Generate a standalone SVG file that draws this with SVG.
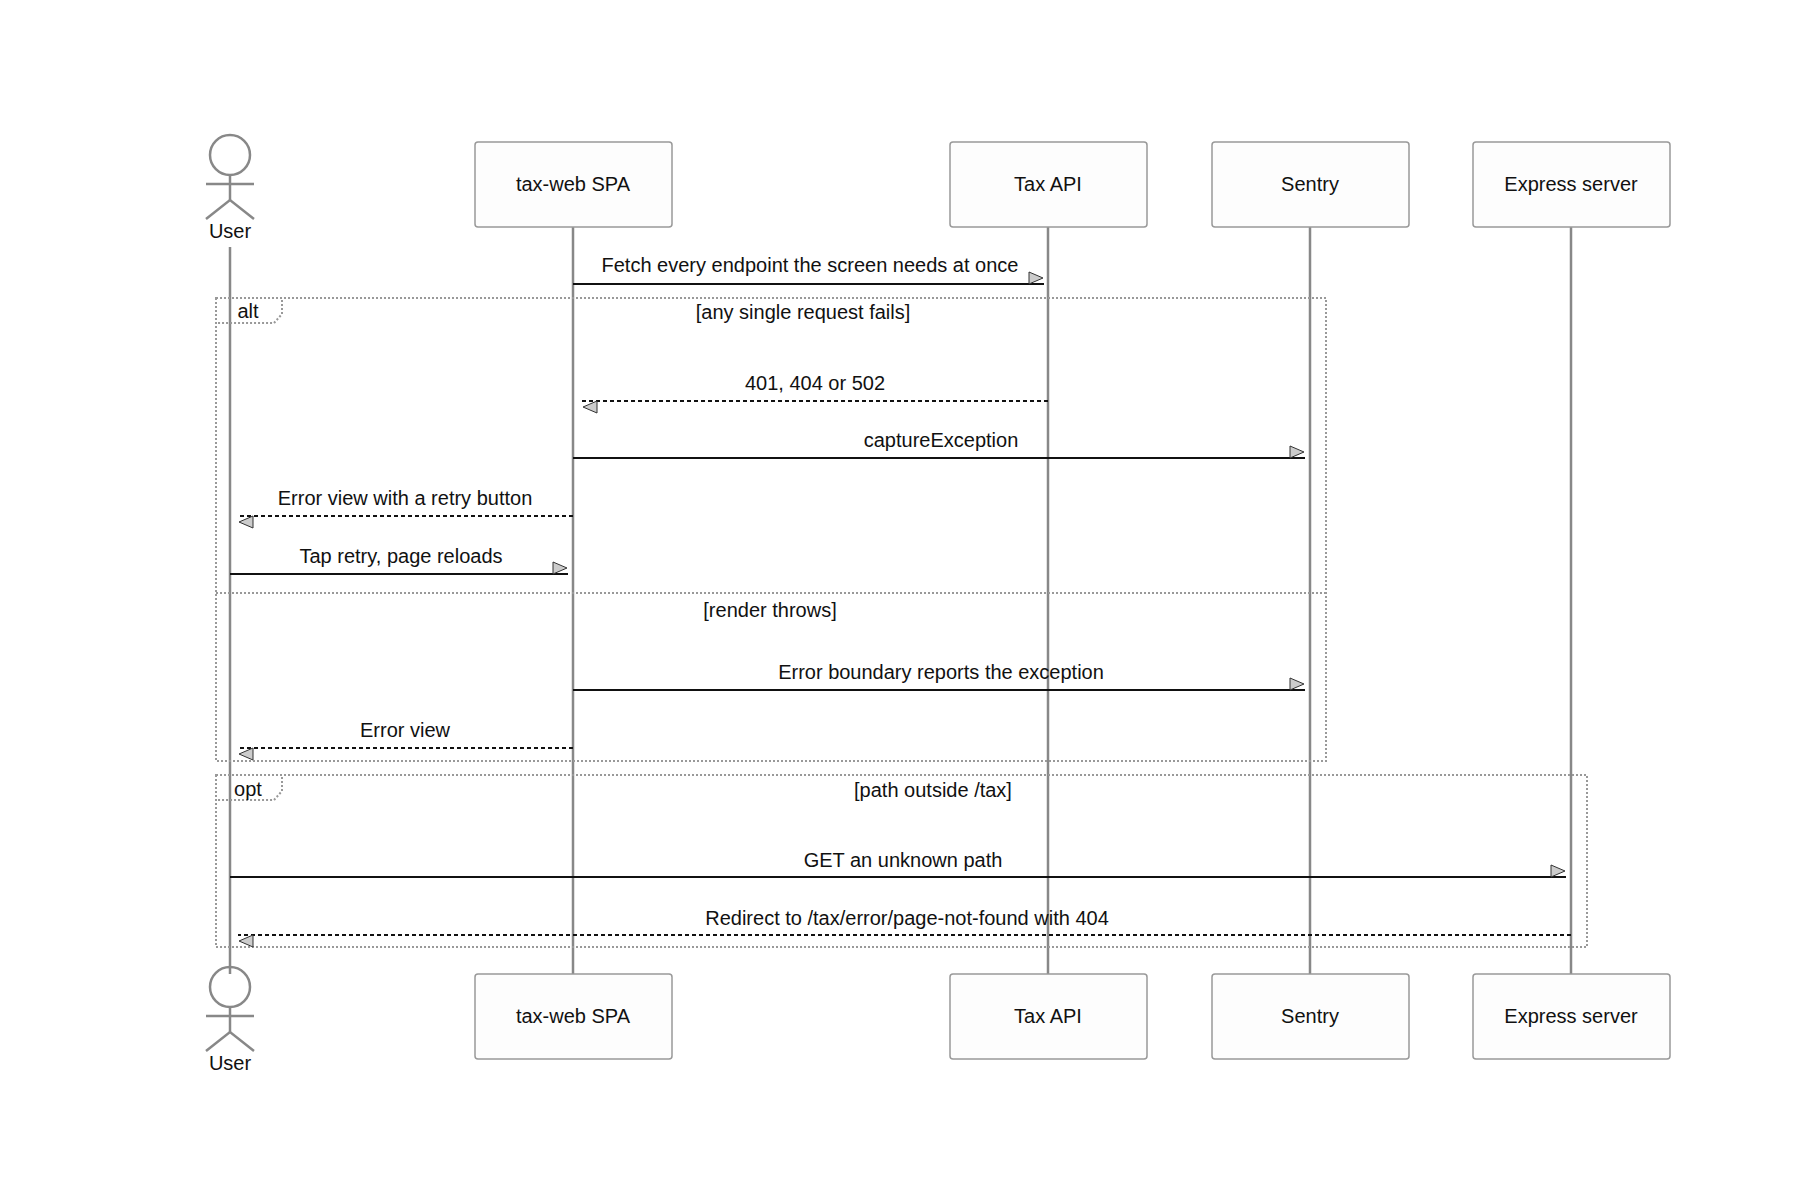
<svg xmlns="http://www.w3.org/2000/svg" width="1800" height="1200" viewBox="0 0 1800 1200">
<style>
text{font-family:"Liberation Sans",Arial,sans-serif;font-size:20px;fill:#111;text-anchor:middle}
.box{fill:#fdfdfd;stroke:#999;stroke-width:1.5}
.life{stroke:#888;stroke-width:2.5}
.actor{fill:none;stroke:#888;stroke-width:2.5}
.frame{fill:none;stroke:#999;stroke-width:2;stroke-dasharray:2 2}
.msg{stroke:#111;stroke-width:2;fill:none}
.dash{stroke-dasharray:4 3}
</style>
<defs>
<marker id="ah" viewBox="0 0 16 14" refX="16" refY="13" markerWidth="16" markerHeight="14" markerUnits="userSpaceOnUse" orient="auto">
<path d="M1,1 L15,7 L1,13 Z" fill="#ccc" stroke="#333" stroke-width="1"/>
</marker>
</defs>
<g id="lifelines">
<line class="life" x1="230" y1="247" x2="230" y2="974"/>
<line class="life" x1="573" y1="227" x2="573" y2="974"/>
<line class="life" x1="1048" y1="227" x2="1048" y2="974"/>
<line class="life" x1="1310" y1="227" x2="1310" y2="974"/>
<line class="life" x1="1571" y1="227" x2="1571" y2="974"/>
</g>
<g id="frames">
<rect class="frame" x="216" y="298" width="1110" height="463"/>
<path class="frame" d="M216,298 H282 V314 L274,323 H216"/>
<text x="248" y="318">alt</text>
<text x="803" y="319">[any single request fails]</text>
<line class="frame" x1="216" y1="593" x2="1326" y2="593"/>
<text x="770" y="617">[render throws]</text>
<rect class="frame" x="216" y="775" width="1371" height="172"/>
<path class="frame" d="M216,775 H282 V791 L274,800 H216"/>
<text x="248" y="796">opt</text>
<text x="933" y="797">[path outside /tax]</text>
</g>
<g id="actor-user-top">
<circle class="actor" cx="230" cy="155" r="20"/>
<line class="actor" x1="230" y1="175" x2="230" y2="200"/>
<line class="actor" x1="206" y1="184" x2="254" y2="184"/>
<path class="actor" d="M206,219 L230,200 L254,219"/>
<text x="230" y="238">User</text>
</g>
<g id="actor-user-bottom">
<circle class="actor" cx="230" cy="987" r="20"/>
<line class="actor" x1="230" y1="1007" x2="230" y2="1032"/>
<line class="actor" x1="206" y1="1016" x2="254" y2="1016"/>
<path class="actor" d="M206,1051 L230,1032 L254,1051"/>
<text x="230" y="1070">User</text>
</g>
<g id="spa-top"><rect class="box" x="475" y="142" width="197" height="85" rx="3"/><text x="573" y="191">tax-web SPA</text></g>
<g id="api-top"><rect class="box" x="950" y="142" width="197" height="85" rx="3"/><text x="1048" y="191">Tax API</text></g>
<g id="sentry-top"><rect class="box" x="1212" y="142" width="197" height="85" rx="3"/><text x="1310" y="191">Sentry</text></g>
<g id="express-top"><rect class="box" x="1473" y="142" width="197" height="85" rx="3"/><text x="1571" y="191">Express server</text></g>
<g id="spa-bottom"><rect class="box" x="475" y="974" width="197" height="85" rx="3"/><text x="573" y="1023">tax-web SPA</text></g>
<g id="api-bottom"><rect class="box" x="950" y="974" width="197" height="85" rx="3"/><text x="1048" y="1023">Tax API</text></g>
<g id="sentry-bottom"><rect class="box" x="1212" y="974" width="197" height="85" rx="3"/><text x="1310" y="1023">Sentry</text></g>
<g id="express-bottom"><rect class="box" x="1473" y="974" width="197" height="85" rx="3"/><text x="1571" y="1023">Express server</text></g>
<g id="connectors">
<line class="msg" x1="573" y1="284" x2="1044" y2="284" marker-end="url(#ah)"/>
<text x="810" y="272">Fetch every endpoint the screen needs at once</text>
<line class="msg dash" x1="1048" y1="401" x2="582" y2="401" marker-end="url(#ah)"/>
<text x="815" y="390">401, 404 or 502</text>
<line class="msg" x1="573" y1="458" x2="1305" y2="458" marker-end="url(#ah)"/>
<text x="941" y="447">captureException</text>
<line class="msg dash" x1="573" y1="516" x2="238" y2="516" marker-end="url(#ah)"/>
<text x="405" y="505">Error view with a retry button</text>
<line class="msg" x1="230" y1="574" x2="568" y2="574" marker-end="url(#ah)"/>
<text x="401" y="563">Tap retry, page reloads</text>
<line class="msg" x1="573" y1="690" x2="1305" y2="690" marker-end="url(#ah)"/>
<text x="941" y="679">Error boundary reports the exception</text>
<line class="msg dash" x1="573" y1="748" x2="238" y2="748" marker-end="url(#ah)"/>
<text x="405" y="737">Error view</text>
<line class="msg" x1="230" y1="877" x2="1566" y2="877" marker-end="url(#ah)"/>
<text x="903" y="867">GET an unknown path</text>
<line class="msg dash" x1="1571" y1="935" x2="238" y2="935" marker-end="url(#ah)"/>
<text x="907" y="925">Redirect to /tax/error/page-not-found with 404</text>
</g>
</svg>
